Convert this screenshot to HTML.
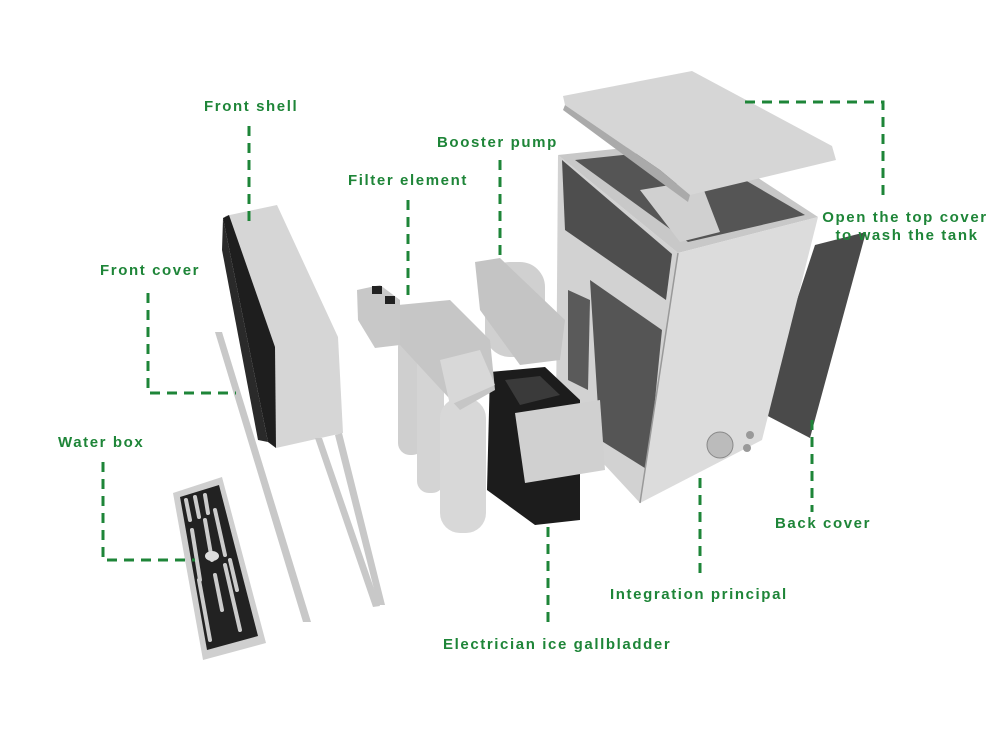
<!DOCTYPE html>
<html><head><meta charset="utf-8"><style>
html,body{margin:0;padding:0;background:#fff;}
svg{display:block}
text{font-family:"Liberation Sans",sans-serif;font-weight:bold;font-size:15px;fill:#1e8538;letter-spacing:1.6px}
.d{stroke:#1e8538;stroke-width:3;stroke-dasharray:10 7;fill:none}
</style></head><body>
<svg width="1000" height="750" viewBox="0 0 1000 750">
<!-- back cover -->
<polygon points="815,245 866,232 810,438 760,412" fill="#4a4a4a"/>
<!-- main body left side -->
<polygon points="558,155 678,253 640,503 602,462 556,420" fill="#d2d2d2"/>
<polygon points="562,160 672,254 666,300 565,230" fill="#4e4e4e"/>
<polygon points="590,280 662,330 648,470 600,440" fill="#555"/>
<polygon points="568,290 590,300 588,390 568,380" fill="#5a5a5a"/>
<!-- top opening -->
<polygon points="558,155 700,140 818,217 678,253" fill="#c8c8c8"/>
<polygon points="575,160 690,148 805,215 688,242" fill="#555"/>
<polygon points="640,190 700,180 720,232 680,242" fill="#d0d0d0"/>
<!-- front face -->
<polygon points="678,253 818,217 762,440 640,503" fill="#dcdcdc"/>
<line x1="678" y1="253" x2="640" y2="503" stroke="#999" stroke-width="1.5"/>
<circle cx="720" cy="445" r="13" fill="#bbb" stroke="#888"/>
<circle cx="750" cy="435" r="4" fill="#999"/><circle cx="747" cy="448" r="4" fill="#999"/>
<!-- top cover -->
<polygon points="563,96 692,71 832,146 836,160 690,195 660,170 565,105" fill="#d6d6d6"/>
<polygon points="565,105 660,170 690,195 688,202 655,178 563,110" fill="#aaa"/>
<!-- black ice box -->
<polygon points="490,372 545,367 580,400 580,520 535,525 487,490" fill="#1c1c1c"/>
<polygon points="505,380 540,376 560,395 520,405" fill="#3a3a3a"/>
<polygon points="515,413 600,400 605,470 525,483" fill="#d0d0d0"/>
<!-- pump -->
<rect x="485" y="262" width="60" height="95" rx="25" fill="#d0d0d0"/>
<polygon points="475,262 500,258 565,320 560,360 520,365 480,310" fill="#c4c4c4"/>
<!-- filters -->
<rect x="398" y="335" width="26" height="120" rx="12" fill="#cfcfcf"/>
<rect x="417" y="345" width="27" height="148" rx="12" fill="#d4d4d4"/>
<rect x="440" y="398" width="46" height="135" rx="20" fill="#d8d8d8"/>
<polygon points="398,305 450,300 490,340 495,390 460,410 400,345" fill="#c6c6c6"/>
<polygon points="440,360 480,350 495,385 450,405" fill="#d8d8d8"/>
<!-- valve block -->
<polygon points="357,290 380,285 400,300 400,345 375,348 358,320" fill="#c8c8c8"/>
<rect x="372" y="286" width="10" height="8" fill="#222"/><rect x="385" y="296" width="10" height="8" fill="#222"/>
<!-- front shell -->
<polygon points="225,216 277,205 338,337 343,433 276,448 273,347" fill="#d6d6d6"/>
<polygon points="223,218 229,215 275,347 276,448 268,442" fill="#1e1e1e"/>
<polygon points="223,218 268,442 258,440 222,250" fill="#2a2a2a"/>
<!-- front cover strip -->
<polygon points="215,332 222,332 311,622 303,622" fill="#c8c8c8"/>
<!-- frame -->
<polygon points="315,438 322,438 380,606 373,607" fill="#c8c8c8"/>
<polygon points="335,435 342,433 385,605 378,605" fill="#c8c8c8"/>
<!-- water box tray -->
<polygon points="173,493 222,477 266,643 203,660" fill="#cfcfcf"/>
<polygon points="180,497 219,485 258,636 207,650" fill="#222"/>
<g stroke="#ccc" stroke-width="4" stroke-linecap="round">
<line x1="186" y1="500" x2="190" y2="520"/><line x1="195" y1="497" x2="199" y2="517"/><line x1="205" y1="495" x2="208" y2="513"/>
<line x1="192" y1="530" x2="200" y2="580"/><line x1="205" y1="520" x2="212" y2="560"/><line x1="215" y1="510" x2="225" y2="555"/>
<line x1="199" y1="580" x2="210" y2="640"/><line x1="215" y1="575" x2="222" y2="610"/><line x1="225" y1="565" x2="240" y2="630"/><line x1="230" y1="560" x2="237" y2="590"/>
</g>
<ellipse cx="212" cy="556" rx="7" ry="5" fill="#ddd"/>
<!-- leader lines -->
<path class="d" d="M249 126 V222"/>
<path class="d" d="M500 160 V262"/>
<path class="d" d="M408 200 V300"/>
<path class="d" d="M148 293 V393 H236"/>
<path class="d" d="M103 462 V560 H195"/>
<path class="d" d="M745 102 H883 V200"/>
<path class="d" d="M812 420 V512"/>
<path class="d" d="M700 478 V580"/>
<path class="d" d="M548 527 V625"/>
<!-- labels -->
<text x="204" y="111">Front shell</text>
<text x="437" y="147">Booster pump</text>
<text x="348" y="185">Filter element</text>
<text x="100" y="275">Front cover</text>
<text x="58" y="447">Water box</text>
<text x="905" y="222" text-anchor="middle">Open the top cover</text>
<text x="907" y="240" text-anchor="middle">to wash the tank</text>
<text x="775" y="528">Back cover</text>
<text x="610" y="599">Integration principal</text>
<text x="443" y="649">Electrician ice gallbladder</text>
</svg>
</body></html>
